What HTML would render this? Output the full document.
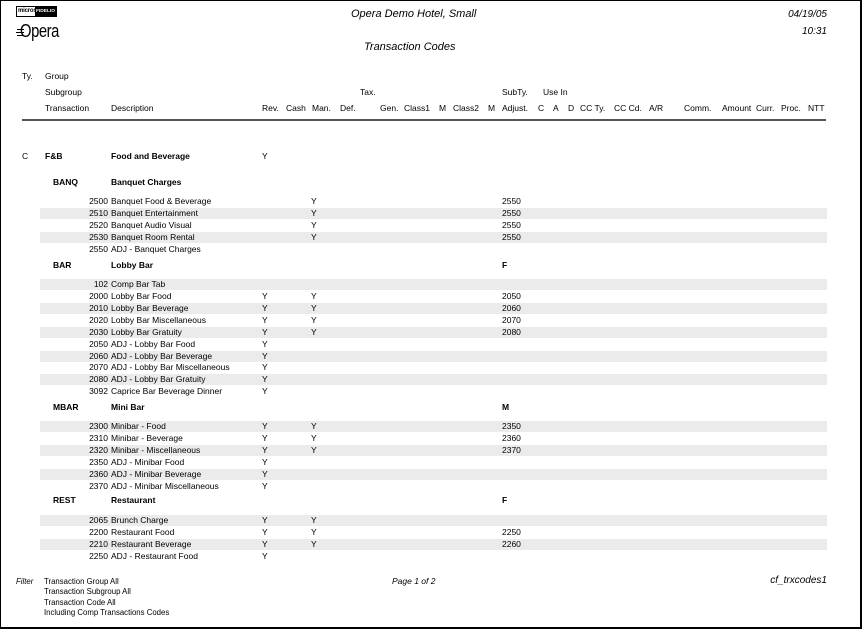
<!DOCTYPE html>
<html><head><meta charset="utf-8"><style>
html,body{margin:0;padding:0;background:#fff;}
#pg{position:relative;width:864px;height:630px;overflow:hidden;background:#fff;font-family:"Liberation Sans",Arial,sans-serif;color:#000;}
#frame{position:absolute;left:0;top:0;width:859px;height:626px;border-left:1px solid #000;border-top:1px solid #000;border-right:2px solid #000;border-bottom:2px solid #000;}
.t{position:absolute;white-space:nowrap;font-size:8.5px;line-height:11px;}
.i{font-style:italic;}
.b{font-weight:bold;}
.r{position:absolute;left:0;width:864px;height:11px;font-size:8.5px;line-height:11px;}
.r span{position:absolute;top:0;white-space:nowrap;}
.s::before{content:"";position:absolute;left:40px;width:787px;top:0;height:11px;background:#ebebeb;}
.c{right:756px;}
.d{left:111px;}
.rv{left:262px;}
.mn{left:311px;}
.aj{left:502px;}
.ft{position:absolute;white-space:nowrap;font-size:7.8px;line-height:10px;}
</style></head><body>
<div id="pg">
<div id="frame"></div>

<!-- logos -->
<div style="position:absolute;left:16px;top:6px;width:39px;height:9px;border:1px solid #000;background:#fff;overflow:hidden;">
  <div style="position:absolute;left:1px;top:0;font-size:6px;line-height:9px;font-weight:bold;letter-spacing:-0.2px;">micros</div>
  <div style="position:absolute;left:18px;top:0;width:21px;height:9px;background:#000;color:#fff;font-size:4.8px;line-height:9px;font-weight:bold;text-align:center;">FIDELIO</div>
</div>
<div style="position:absolute;left:17px;top:29px;width:7px;height:1px;background:#000;"></div>
<div style="position:absolute;left:16px;top:32px;width:8px;height:1px;background:#000;"></div>
<div style="position:absolute;left:17px;top:35px;width:7px;height:1px;background:#000;"></div>
<div style="position:absolute;left:20px;top:21px;font-size:18px;line-height:21px;transform:scaleX(0.82);transform-origin:left top;letter-spacing:-0.5px;">Opera</div>

<!-- titles -->
<div class="t i" style="left:351px;top:7px;font-size:11px;line-height:14px;">Opera Demo Hotel, Small</div>
<div class="t i" style="left:364px;top:40px;font-size:11px;line-height:14px;">Transaction Codes</div>
<div class="t i" style="right:37px;top:8px;font-size:10px;line-height:13px;">04/19/05</div>
<div class="t i" style="right:37px;top:25px;font-size:10px;line-height:13px;">10:31</div>

<!-- column headers -->
<div class="t" style="left:22px;top:71.4px;">Ty.</div>
<div class="t" style="left:45px;top:71.4px;">Group</div>
<div class="t" style="left:45px;top:87.4px;">Subgroup</div>
<div class="t" style="left:360px;top:87.4px;">Tax.</div>
<div class="t" style="left:502px;top:87.4px;">SubTy.</div>
<div class="t" style="left:543px;top:87.4px;">Use In</div>
<div class="t" style="left:45px;top:103.4px;">Transaction</div>
<div class="t" style="left:111px;top:103.4px;">Description</div>
<div class="t" style="left:262px;top:103.4px;">Rev.</div>
<div class="t" style="left:286px;top:103.4px;">Cash</div>
<div class="t" style="left:312px;top:103.4px;">Man.</div>
<div class="t" style="left:340px;top:103.4px;">Def.</div>
<div class="t" style="left:380px;top:103.4px;">Gen.</div>
<div class="t" style="left:404px;top:103.4px;">Class1</div>
<div class="t" style="left:439px;top:103.4px;">M</div>
<div class="t" style="left:453px;top:103.4px;">Class2</div>
<div class="t" style="left:488px;top:103.4px;">M</div>
<div class="t" style="left:502px;top:103.4px;">Adjust.</div>
<div class="t" style="left:538px;top:103.4px;">C</div>
<div class="t" style="left:553px;top:103.4px;">A</div>
<div class="t" style="left:568px;top:103.4px;">D</div>
<div class="t" style="left:580px;top:103.4px;">CC Ty.</div>
<div class="t" style="left:614px;top:103.4px;">CC Cd.</div>
<div class="t" style="left:649px;top:103.4px;">A/R</div>
<div class="t" style="left:684px;top:103.4px;">Comm.</div>
<div class="t" style="left:722px;top:103.4px;">Amount</div>
<div class="t" style="left:756px;top:103.4px;">Curr.</div>
<div class="t" style="left:781px;top:103.4px;">Proc.</div>
<div class="t" style="left:808px;top:103.4px;">NTT</div>
<div style="position:absolute;left:22px;top:119px;width:804px;height:2px;background:#555;"></div>

<!-- group -->
<div class="r" style="top:151.4px;"><span style="left:22px;">C</span><span class="b" style="left:45px;">F&amp;B</span><span class="d b">Food and Beverage</span><span class="rv">Y</span></div>

<!-- BANQ -->
<div class="r" style="top:177.4px;"><span class="b" style="left:53px;">BANQ</span><span class="d b">Banquet Charges</span></div>
<div class="r" style="top:196.4px;"><span class="c">2500</span><span class="d">Banquet Food &amp; Beverage</span><span class="mn">Y</span><span class="aj">2550</span></div>
<div class="r s" style="top:208.25px;"><span class="c">2510</span><span class="d">Banquet Entertainment</span><span class="mn">Y</span><span class="aj">2550</span></div>
<div class="r" style="top:220.1px;"><span class="c">2520</span><span class="d">Banquet Audio Visual</span><span class="mn">Y</span><span class="aj">2550</span></div>
<div class="r s" style="top:231.95px;"><span class="c">2530</span><span class="d">Banquet Room Rental</span><span class="mn">Y</span><span class="aj">2550</span></div>
<div class="r" style="top:243.8px;"><span class="c">2550</span><span class="d">ADJ - Banquet Charges</span></div>

<!-- BAR -->
<div class="r" style="top:260.4px;"><span class="b" style="left:53px;">BAR</span><span class="d b">Lobby Bar</span><span class="aj b">F</span></div>
<div class="r s" style="top:279.4px;"><span class="c">102</span><span class="d">Comp Bar Tab</span></div>
<div class="r" style="top:291.25px;"><span class="c">2000</span><span class="d">Lobby Bar Food</span><span class="rv">Y</span><span class="mn">Y</span><span class="aj">2050</span></div>
<div class="r s" style="top:303.1px;"><span class="c">2010</span><span class="d">Lobby Bar Beverage</span><span class="rv">Y</span><span class="mn">Y</span><span class="aj">2060</span></div>
<div class="r" style="top:314.95px;"><span class="c">2020</span><span class="d">Lobby Bar Miscellaneous</span><span class="rv">Y</span><span class="mn">Y</span><span class="aj">2070</span></div>
<div class="r s" style="top:326.8px;"><span class="c">2030</span><span class="d">Lobby Bar Gratuity</span><span class="rv">Y</span><span class="mn">Y</span><span class="aj">2080</span></div>
<div class="r" style="top:338.65px;"><span class="c">2050</span><span class="d">ADJ - Lobby Bar Food</span><span class="rv">Y</span></div>
<div class="r s" style="top:350.5px;"><span class="c">2060</span><span class="d">ADJ - Lobby Bar Beverage</span><span class="rv">Y</span></div>
<div class="r" style="top:362.35px;"><span class="c">2070</span><span class="d">ADJ - Lobby Bar Miscellaneous</span><span class="rv">Y</span></div>
<div class="r s" style="top:374.2px;"><span class="c">2080</span><span class="d">ADJ - Lobby Bar Gratuity</span><span class="rv">Y</span></div>
<div class="r" style="top:386.05px;"><span class="c">3092</span><span class="d">Caprice Bar Beverage Dinner</span><span class="rv">Y</span></div>

<!-- MBAR -->
<div class="r" style="top:402.4px;"><span class="b" style="left:53px;">MBAR</span><span class="d b">Mini Bar</span><span class="aj b">M</span></div>
<div class="r s" style="top:421.4px;"><span class="c">2300</span><span class="d">Minibar - Food</span><span class="rv">Y</span><span class="mn">Y</span><span class="aj">2350</span></div>
<div class="r" style="top:433.25px;"><span class="c">2310</span><span class="d">Minibar - Beverage</span><span class="rv">Y</span><span class="mn">Y</span><span class="aj">2360</span></div>
<div class="r s" style="top:445.1px;"><span class="c">2320</span><span class="d">Minibar - Miscellaneous</span><span class="rv">Y</span><span class="mn">Y</span><span class="aj">2370</span></div>
<div class="r" style="top:456.95px;"><span class="c">2350</span><span class="d">ADJ - Minibar Food</span><span class="rv">Y</span></div>
<div class="r s" style="top:468.8px;"><span class="c">2360</span><span class="d">ADJ - Minibar Beverage</span><span class="rv">Y</span></div>
<div class="r" style="top:480.65px;"><span class="c">2370</span><span class="d">ADJ - Minibar Miscellaneous</span><span class="rv">Y</span></div>

<!-- REST -->
<div class="r" style="top:495.4px;"><span class="b" style="left:53px;">REST</span><span class="d b">Restaurant</span><span class="aj b">F</span></div>
<div class="r s" style="top:515.4px;"><span class="c">2065</span><span class="d">Brunch Charge</span><span class="rv">Y</span><span class="mn">Y</span></div>
<div class="r" style="top:527.25px;"><span class="c">2200</span><span class="d">Restaurant Food</span><span class="rv">Y</span><span class="mn">Y</span><span class="aj">2250</span></div>
<div class="r s" style="top:539.1px;"><span class="c">2210</span><span class="d">Restaurant Beverage</span><span class="rv">Y</span><span class="mn">Y</span><span class="aj">2260</span></div>
<div class="r" style="top:550.95px;"><span class="c">2250</span><span class="d">ADJ - Restaurant Food</span><span class="rv">Y</span></div>

<!-- footer -->
<div class="ft i" style="left:16px;top:576.5px;">Filter</div>
<div class="ft" style="left:44px;top:576.5px;">Transaction Group All</div>
<div class="ft" style="left:44px;top:587px;">Transaction Subgroup All</div>
<div class="ft" style="left:44px;top:597.5px;">Transaction Code All</div>
<div class="ft" style="left:44px;top:608px;">Including Comp Transactions Codes</div>
<div class="t i" style="left:392px;top:575.5px;">Page 1 of 2</div>
<div class="t i" style="right:37px;top:575px;font-size:10px;line-height:12px;">cf_trxcodes1</div>
</div>
</body></html>
